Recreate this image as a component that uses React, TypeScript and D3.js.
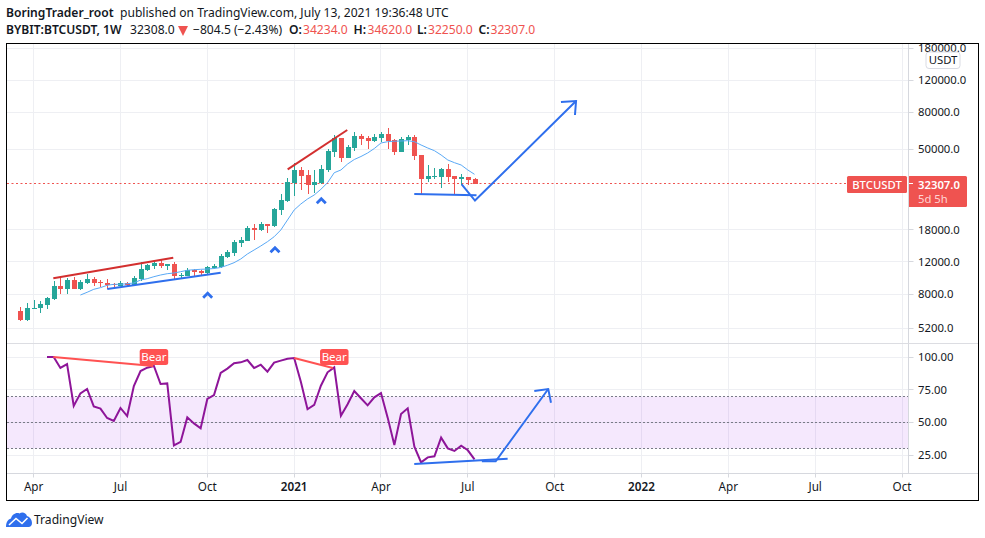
import * as d3 from "d3";

const WIDTH = 985;
const HEIGHT = 538;

// weekly candles, BYBIT:BTCUSDT, first bar is the week of 23 Mar 2020
const opens = [
  6449, 5755, 6614, 6699, 6958, 7507, 8852, 8522, 9550, 8522, 9195, 9672, 9312, 9195, 9079, 8852, 9150,
  8965, 9672, 10839, 11402, 11844, 11402, 11695, 10130, 10046, 10839, 10650, 10435, 11117, 11210, 12779,
  13443, 15258, 15649, 18449, 17988, 19407, 18922, 23170, 25966, 32610, 38442, 36085, 31795, 32610, 38442,
  48278, 57639, 44748, 50786, 59116, 57639, 55491, 57639, 60632, 56198, 48278, 56198, 58373, 46480, 34303,
  35183, 35183, 38932, 35631, 34303, 35183, 34234,
];
const highs = [
  6784, 7136, 7412, 7319, 7699, 9430, 9795, 9795, 9920, 9550, 10304, 9920, 9550, 9672, 9195, 9390, 9312,
  10046, 11995, 11695, 12302, 12302, 11695, 11995, 10435, 11117, 10977, 10839, 11402, 11695, 13220, 13964,
  15849, 16463, 18922, 19407, 19904, 19407, 23764, 28372, 34740, 42003, 39930, 38442, 38442, 40953, 50147,
  59869, 57639, 52751, 62186, 60632, 59116, 60632, 62186, 65416, 56914, 58373, 59869, 59869, 46480, 40953,
  39428, 39428, 41475, 35631, 36545, 35183, 34620,
];
const lows = [
  5683, 5683, 6614, 6288, 6614, 7412, 7997, 7997, 8522, 8415, 9079, 8852, 8741, 8522, 8741, 8852, 8852,
  8965, 9430, 10703, 10977, 11117, 10839, 9550, 9795, 10046, 9920, 10046, 10304, 10977, 11070, 12560,
  12942, 14504, 15649, 15849, 17762, 17318, 18684, 21749, 25639, 27663, 29845, 28372, 28733, 32200, 37481,
  45318, 42538, 44748, 48893, 52751, 50147, 54793, 54793, 50147, 46480, 48278, 52751, 43629, 28372, 33025,
  34303, 30610, 33025, 28372, 31795, 31795, 32250,
];
const closes = [
  5755, 6699, 6740, 7046, 7602, 8852, 8522, 9550, 8522, 9312, 9672, 9195, 9150, 8965, 8930, 9195, 8965,
  9795, 10977, 11548, 11844, 11402, 11695, 10046, 10174, 10839, 10568, 10435, 11259, 11402, 12942, 13614,
  15452, 15849, 18449, 17988, 19407, 18922, 23465, 26297, 33025, 38442, 35631, 31795, 33025, 38932, 48893,
  57639, 44748, 51433, 59116, 56914, 55491, 58373, 60632, 55491, 48278, 56914, 58373, 45895, 34303, 35631,
  35631, 38932, 35183, 34303, 35183, 33872, 32307,
];

// moving average starts at bar 9
const maStart = 9;
const maValues = [
  7897, 8174, 8490, 8670, 8930, 9045, 9045, 9115, 9195, 9550, 9710, 9960, 10174, 10345, 10435, 10610, 10800,
  10880, 10935, 10977, 11045, 11190, 11505, 11890, 12459, 13274, 13964, 14689, 15510, 16510, 17988, 20415,
  23170, 24998, 26632, 28015, 30110, 32730, 37150, 38442, 41475, 43900, 45600, 47671, 50460, 54104, 55000,
  55350, 55491, 55700, 55000, 52751, 50786, 49080, 46480, 43629, 42160, 40953, 38442, 36400,
];

// RSI starts at bar 4
const rsiStart = 4;
const rsiValues = [
  100, 100, 91.6, 94.6, 62.5, 72.2, 75.5, 62.2, 60.5, 53.3, 51, 61, 54.8, 77.8, 89.3, 91.8, 93.1, 79.3, 79.8,
  32.4, 35, 53.8, 49.2, 45.4, 67.9, 70.9, 87.8, 91.1, 95.2, 95.9, 97.7, 91.6, 94.1, 88.8, 95.7, 97.2, 98.7,
  99.2, 81.1, 60, 63.3, 78, 88.3, 92.1, 55.1, 63.8, 74, 68.4, 63, 69.1, 72.4, 53.6, 32.7, 56.4, 60.7, 31.4,
  19.4, 23.2, 24, 38.3, 30.1, 28.1, 32.1, 28.6, 21.7,
];

const priceTicks = [180000, 120000, 80000, 50000, 18000, 12000, 8000, 5200];
const rsiTicks = [100, 75, 50, 25];
const rsiBands = [70, 50, 30];
const timeTickBars = [2, 15, 28, 41, 54, 67, 80, 93, 106, 119, 132];
const timeTickLabels = ["Apr", "Jul", "Oct", "2021", "Apr", "Jul", "Oct", "2022", "Apr", "Jul", "Oct"];
const lastPrice = 32307;

// drawn annotations, [bar, price]
const redTrends = [
  [[4.94, 9760], [22.9, 12660]],
  [[40.03, 38780], [48.95, 63780]],
];
const blueTrends = [
  [[13.02, 8522], [30, 10480]],
  [[58.98, 28372], [68.3, 27900]],
];
const blueArrow = [[66.08, 32080], [68.07, 26100], [83.2, 92070]];
const blueArrowHead = [[80.94, 90900], [83.2, 92070], [83.04, 77100]];
const carets = [[28.05, 8175], [38.13, 14560], [45.06, 27070]];

// drawn annotations, [bar, rsi]
const rsiRedTrends = [
  [[4.94, 100], [19.9, 93.1]],
  [[41, 99.2], [46.8, 91.6]],
];
const bearBars = [20, 47];
const rsiBlueTrend = [[58.98, 18.1], [72.96, 22.2]];
const rsiArrow = [[69.1, 20.2], [71.17, 20.2], [79.04, 75.5]];
const rsiArrowHead = [[76.95, 74], [79.04, 75.5], [79.45, 65]];

const GREEN = "#26a69a";
const RED = "#ef5350";
const BLUE = "#2f6fed";
const GRID = "#eeeff3";
const TEXT = "#131722";
const FONT = "'Noto Sans', sans-serif";
const HEADER_SIZE = 12.1;
const AXIS_SIZE = 11.3;

const left = 7;
const axisX = 908.5;
const right = 978.5;
const top = 44;
const paneY = 343.5;
const timeY = 473.5;
const bottom = 500.5;

const x = d3.scaleLinear().domain([0, 132]).range([20.3, 902]);
const y = d3
  .scaleLog()
  .domain([8000, 120000])
  .range([294, 294 - 79 * Math.log(15)]);
const rsiY = d3.scaleLinear().domain([100, 25]).range([357, 455]);

const crisp = (v: number) => Math.floor(v) + 0.5;

const priceLine = d3
  .line<number[]>()
  .x((d) => x(d[0]))
  .y((d) => y(d[1]));
const rsiLine = d3
  .line<number[]>()
  .x((d) => x(d[0]))
  .y((d) => rsiY(d[1]));

export default function App() {
  const maPoints = maValues.map((v, i) => [i + maStart, v]);
  const rsiPoints = rsiValues.map((v, i) => [i + rsiStart, v]);
  const lastY = crisp(y(lastPrice));

  return (
    <svg
      width={WIDTH}
      height={HEIGHT}
      style={{ position: "absolute", left: 0, top: 0, background: "#fff" }}
      fontFamily={FONT}
    >
      <defs>
        <clipPath id="main-pane">
          <rect x={left} y={top} width={axisX - left} height={paneY - top} />
        </clipPath>
        <clipPath id="axis-pane">
          <rect x={axisX} y={top} width={right - axisX} height={paneY - top} />
        </clipPath>
      </defs>

      {/* header */}
      <text x={6} y={17} fontSize={HEADER_SIZE} fontWeight={600} fill={TEXT}>
        BoringTrader_root
      </text>
      <text x={120} y={17} fontSize={HEADER_SIZE} fill={TEXT}>
        published on TradingView.com, July 13, 2021 19:36:48 UTC
      </text>
      <text x={6} y={34} fontSize={HEADER_SIZE} fontWeight={600} fill={TEXT}>
        BYBIT:BTCUSDT, 1W
      </text>
      <text x={130} y={34} fontSize={HEADER_SIZE} fill={TEXT}>
        32308.0
      </text>
      <path d="M178,26 L188,26 L183,36 Z" fill={RED} />
      <text x={193} y={34} fontSize={HEADER_SIZE} fill={TEXT}>
        −804.5 (−2.43%)
      </text>
      {[
        ["O:", "34234.0", 289, 303],
        ["H:", "34620.0", 353.5, 367.5],
        ["L:", "32250.0", 417, 428],
        ["C:", "32307.0", 478.5, 490.5],
      ].map(([k, v, kx, vx]) => (
        <g key={k as string} fontSize={HEADER_SIZE}>
          <text x={kx} y={34} fontWeight={600} fill={TEXT}>
            {k}
          </text>
          <text x={vx} y={34} fill={RED}>
            {v}
          </text>
        </g>
      ))}

      {/* grid */}
      {timeTickBars.map((b) => (
        <line key={b} x1={crisp(x(b))} x2={crisp(x(b))} y1={top} y2={timeY} stroke={GRID} />
      ))}
      {priceTicks.map((p) => (
        <line key={p} x1={left} x2={axisX} y1={crisp(y(p))} y2={crisp(y(p))} stroke={GRID} />
      ))}
      {rsiTicks.map((v) => (
        <line key={v} x1={left} x2={axisX} y1={crisp(rsiY(v))} y2={crisp(rsiY(v))} stroke={GRID} />
      ))}

      {/* rsi pane */}
      <rect
        x={left}
        width={axisX - left}
        y={crisp(rsiY(rsiBands[0]))}
        height={crisp(rsiY(rsiBands[2])) - crisp(rsiY(rsiBands[0]))}
        fill="rgb(155,25,235)"
        fillOpacity={0.1}
      />
      {rsiBands.map((v) => (
        <line
          key={v}
          x1={left}
          x2={axisX}
          y1={crisp(rsiY(v))}
          y2={crisp(rsiY(v))}
          stroke="#787b86"
          strokeDasharray="2 2"
        />
      ))}
      <path d={rsiLine(rsiPoints) as string} fill="none" stroke="#8e1599" strokeWidth={2} />
      {rsiRedTrends.map((t, i) => (
        <path key={i} d={rsiLine(t) as string} fill="none" stroke="#ff5252" strokeWidth={2} />
      ))}
      {bearBars.map((b) => (
        <g key={b}>
          <rect x={x(b) - 14.2} y={349} width={28.5} height={16} rx={2.5} fill="#ff5252" />
          <text x={x(b)} y={361} fontSize={11.5} textAnchor="middle" fill="#fff">
            Bear
          </text>
        </g>
      ))}
      <path d={rsiLine(rsiBlueTrend) as string} fill="none" stroke={BLUE} strokeWidth={2} />
      <path d={rsiLine(rsiArrow) as string} fill="none" stroke={BLUE} strokeWidth={2} />
      <path d={rsiLine(rsiArrowHead) as string} fill="none" stroke={BLUE} strokeWidth={2} />

      {/* main pane */}
      <line x1={left} x2={847} y1={lastY} y2={lastY} stroke={RED} strokeDasharray="2 2.5" />
      <g clipPath="url(#main-pane)">
        {closes.map((c, i) => {
          const color = c >= opens[i] ? GREEN : RED;
          const cx = Math.round(x(i));
          const bodyTop = Math.round(y(Math.max(opens[i], c)));
          const bodyBottom = Math.round(y(Math.min(opens[i], c)));
          return (
            <g key={i}>
              <line
                x1={cx + 0.5}
                x2={cx + 0.5}
                y1={Math.round(y(highs[i]))}
                y2={Math.round(y(lows[i]))}
                stroke={color}
                strokeWidth={1}
              />
              <rect
                x={cx - 2}
                y={bodyTop}
                width={5}
                height={Math.max(bodyBottom - bodyTop, 1)}
                fill={color}
              />
            </g>
          );
        })}
        <path d={priceLine(maPoints) as string} fill="none" stroke="#5aa9f5" strokeWidth={1} />
        {redTrends.map((t, i) => (
          <path key={i} d={priceLine(t) as string} fill="none" stroke="#d32f2f" strokeWidth={2} />
        ))}
        {blueTrends.map((t, i) => (
          <path key={i} d={priceLine(t) as string} fill="none" stroke={BLUE} strokeWidth={2} />
        ))}
        <path d={priceLine(blueArrow) as string} fill="none" stroke={BLUE} strokeWidth={2} />
        <path d={priceLine(blueArrowHead) as string} fill="none" stroke={BLUE} strokeWidth={2} />
        {carets.map(([b, p]) => (
          <path
            key={b}
            d={`M${x(b) - 4.5},${y(p) + 5.5} L${x(b)},${y(p) + 1} L${x(b) + 4.5},${y(p) + 5.5}`}
            fill="none"
            stroke={BLUE}
            strokeWidth={2.8}
          />
        ))}
      </g>

      {/* price axis */}
      <g clipPath="url(#axis-pane)">
        {priceTicks.map((p) => (
          <g key={p}>
            <line x1={axisX} x2={axisX + 5} y1={crisp(y(p))} y2={crisp(y(p))} stroke="#d6d8de" />
            <text x={918} y={y(p) + 4} fontSize={AXIS_SIZE} fill={TEXT}>
              {d3.format(".1f")(p)}
            </text>
          </g>
        ))}
      </g>
      <rect x={926} y={52} width={34} height={16.5} rx={3} fill="#fff" stroke="#d9dbe3" />
      <text x={943} y={64} fontSize={AXIS_SIZE} textAnchor="middle" fill={TEXT}>
        USDT
      </text>
      {rsiTicks.map((v) => (
        <g key={v}>
          <line x1={axisX} x2={axisX + 5} y1={crisp(rsiY(v))} y2={crisp(rsiY(v))} stroke="#d6d8de" />
          <text x={918} y={rsiY(v) + 4} fontSize={AXIS_SIZE} fill={TEXT}>
            {d3.format(".2f")(v)}
          </text>
        </g>
      ))}

      {/* price tags */}
      <rect x={847} y={176} width={60} height={17} rx={1.5} fill={RED} />
      <text x={877} y={188.5} fontSize={AXIS_SIZE} fontWeight={500} textAnchor="middle" fill="#fff">
        BTCUSDT
      </text>
      <rect x={908} y={176} width={59} height={31} rx={1.5} fill={RED} />
      <line x1={908} x2={913} y1={lastY} y2={lastY} stroke="#fff" />
      <text x={918} y={188.5} fontSize={AXIS_SIZE} fontWeight={600} fill="#fff">
        32307.0
      </text>
      <text x={918} y={203} fontSize={AXIS_SIZE} fill="#ffd5d3">
        5d 5h
      </text>

      {/* frame and axis lines */}
      <line x1={axisX} x2={axisX} y1={top} y2={timeY} stroke="#d6d8de" />
      <line x1={left} x2={axisX} y1={paneY} y2={paneY} stroke="#dcdde2" />
      <line x1={axisX} x2={right} y1={paneY} y2={paneY} stroke="#dcdde2" />
      <line x1={left} x2={right} y1={timeY} y2={timeY} stroke="#d6d8de" />
      <rect
        x={6.5}
        y={43.5}
        width={right - 6.5}
        height={bottom - 43.5}
        fill="none"
        stroke="#000"
        strokeWidth={1}
      />

      {/* time axis */}
      {timeTickBars.map((b, i) => {
        const isYear = timeTickLabels[i].length === 4;
        return (
          <g key={b}>
            <line x1={crisp(x(b))} x2={crisp(x(b))} y1={timeY} y2={timeY + 4} stroke="#d6d8de" />
            <text
              x={x(b)}
              y={491}
              fontSize={AXIS_SIZE + 0.4}
              textAnchor="middle"
              fontWeight={isYear ? 600 : 400}
              fill={TEXT}
            >
              {timeTickLabels[i]}
            </text>
          </g>
        );
      })}

      {/* logo */}
      <path
        d="M6,527 C6,521 9,519 11,518.5 C12,514.5 16,512 19.5,513.5 C22,511.5 26,512.5 27,516 C30,517 32,520 32,523 C32,525.5 30.5,527 28.5,527 Z"
        fill={BLUE}
      />
      <path d="M9,525 L16,518.5 L22,523.5 L27.5,518" fill="none" stroke="#fff" strokeWidth={1.6} />
      <text x={34} y={524} fontSize={HEADER_SIZE} fill={TEXT}>
        TradingView
      </text>
    </svg>
  );
}
